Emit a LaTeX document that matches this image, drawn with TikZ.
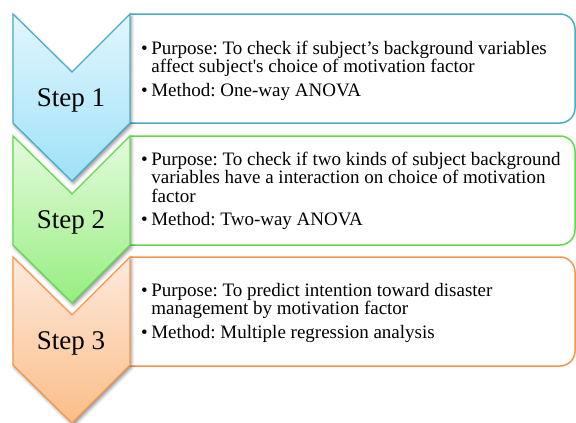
\documentclass[tikz,border=0pt]{standalone}
\usepackage{fontspec}
\setmainfont{Liberation Serif}[Ligatures=TeXOff]
\usetikzlibrary{shadows.blur}
\definecolor{bluebd}{HTML}{4BACC6}
\definecolor{bluetop}{HTML}{E2F6FD}
\definecolor{bluebot}{HTML}{9EE1F9}
\definecolor{greenbd}{HTML}{62D84C}
\definecolor{greentop}{HTML}{E4FBDC}
\definecolor{greenbot}{HTML}{96EE80}
\definecolor{orangebd}{HTML}{F79646}
\definecolor{orangetop}{HTML}{FDEADD}
\definecolor{orangebot}{HTML}{FBBD88}
\tikzset{
  chev/.style={line width=1.2pt, line join=miter,
    blur shadow={shadow xshift=1.5pt, shadow yshift=-2.5pt, shadow blur radius=3pt, shadow opacity=45}},
  infobox/.style={line width=1.5pt, rounded corners=15pt},
  steplabel/.style={anchor=base, inner sep=0pt, font=\fontsize{27}{30}\selectfont},
  info/.style={anchor=base west, inner sep=0pt, font=\fontsize{19}{18.7}\selectfont\frenchspacing, align=left}
}
\newcommand{\itm}{\textbullet}
\begin{document}
\frenchspacing
\begin{tikzpicture}[x=1pt,y=-1pt]
\useasboundingbox (0,0) rectangle (576,423);
% boxes
\draw[infobox, bluebd] (130,14) -- (575,14) -- (575,123) -- (130,123);
\draw[infobox, greenbd] (130,136) -- (575,136) -- (575,245) -- (130,245);
\draw[infobox, orangebd] (130,257) -- (575,257) -- (575,366) -- (130,366);
% chevrons (bottom first)
\draw[chev, draw=orangebd, top color=orangetop, bottom color=orangebot]
  (13,257) -- (72,315) -- (130,257) -- (130,365) -- (72,423) -- (13,365) -- cycle;
\draw[chev, draw=greenbd, top color=greentop, bottom color=greenbot]
  (13,136) -- (72,194) -- (130,136) -- (130,245) -- (72,303) -- (13,245) -- cycle;
\draw[chev, draw=bluebd, top color=bluetop, bottom color=bluebot]
  (13,14) -- (72,72) -- (130,14) -- (130,123) -- (72,181) -- (13,123) -- cycle;
% step labels
\node[steplabel] (s1) at (71,106) {Step 1};
\node[steplabel] (s2) at (71,228) {Step 2};
\node[steplabel] (s3) at (71,349) {Step 3};
% texts
\node[info] (t1) at (141,54) {\begin{tabular}[t]{@{}l@{\hspace{3.5pt}}l@{}}
\itm & Purpose: To check if subject’s background variables\\
 & affect subject's choice of motivation factor\\[4.3pt]
\itm & Method: One-way ANOVA
\end{tabular}};
\node[info] (t2) at (141,165) {\begin{tabular}[t]{@{}l@{\hspace{3.5pt}}l@{}}
\itm & Purpose: To check if two kinds of subject background\\
 & variables have a interaction on choice of motivation\\
 & factor\\[3.3pt]
\itm & Method: Two-way ANOVA
\end{tabular}};
\node[info] (t3) at (141,296) {\begin{tabular}[t]{@{}l@{\hspace{3.5pt}}l@{}}
\itm & Purpose: To predict intention toward disaster\\
 & management by motivation factor\\[4.3pt]
\itm & Method: Multiple regression analysis
\end{tabular}};
\end{tikzpicture}
\end{document}
